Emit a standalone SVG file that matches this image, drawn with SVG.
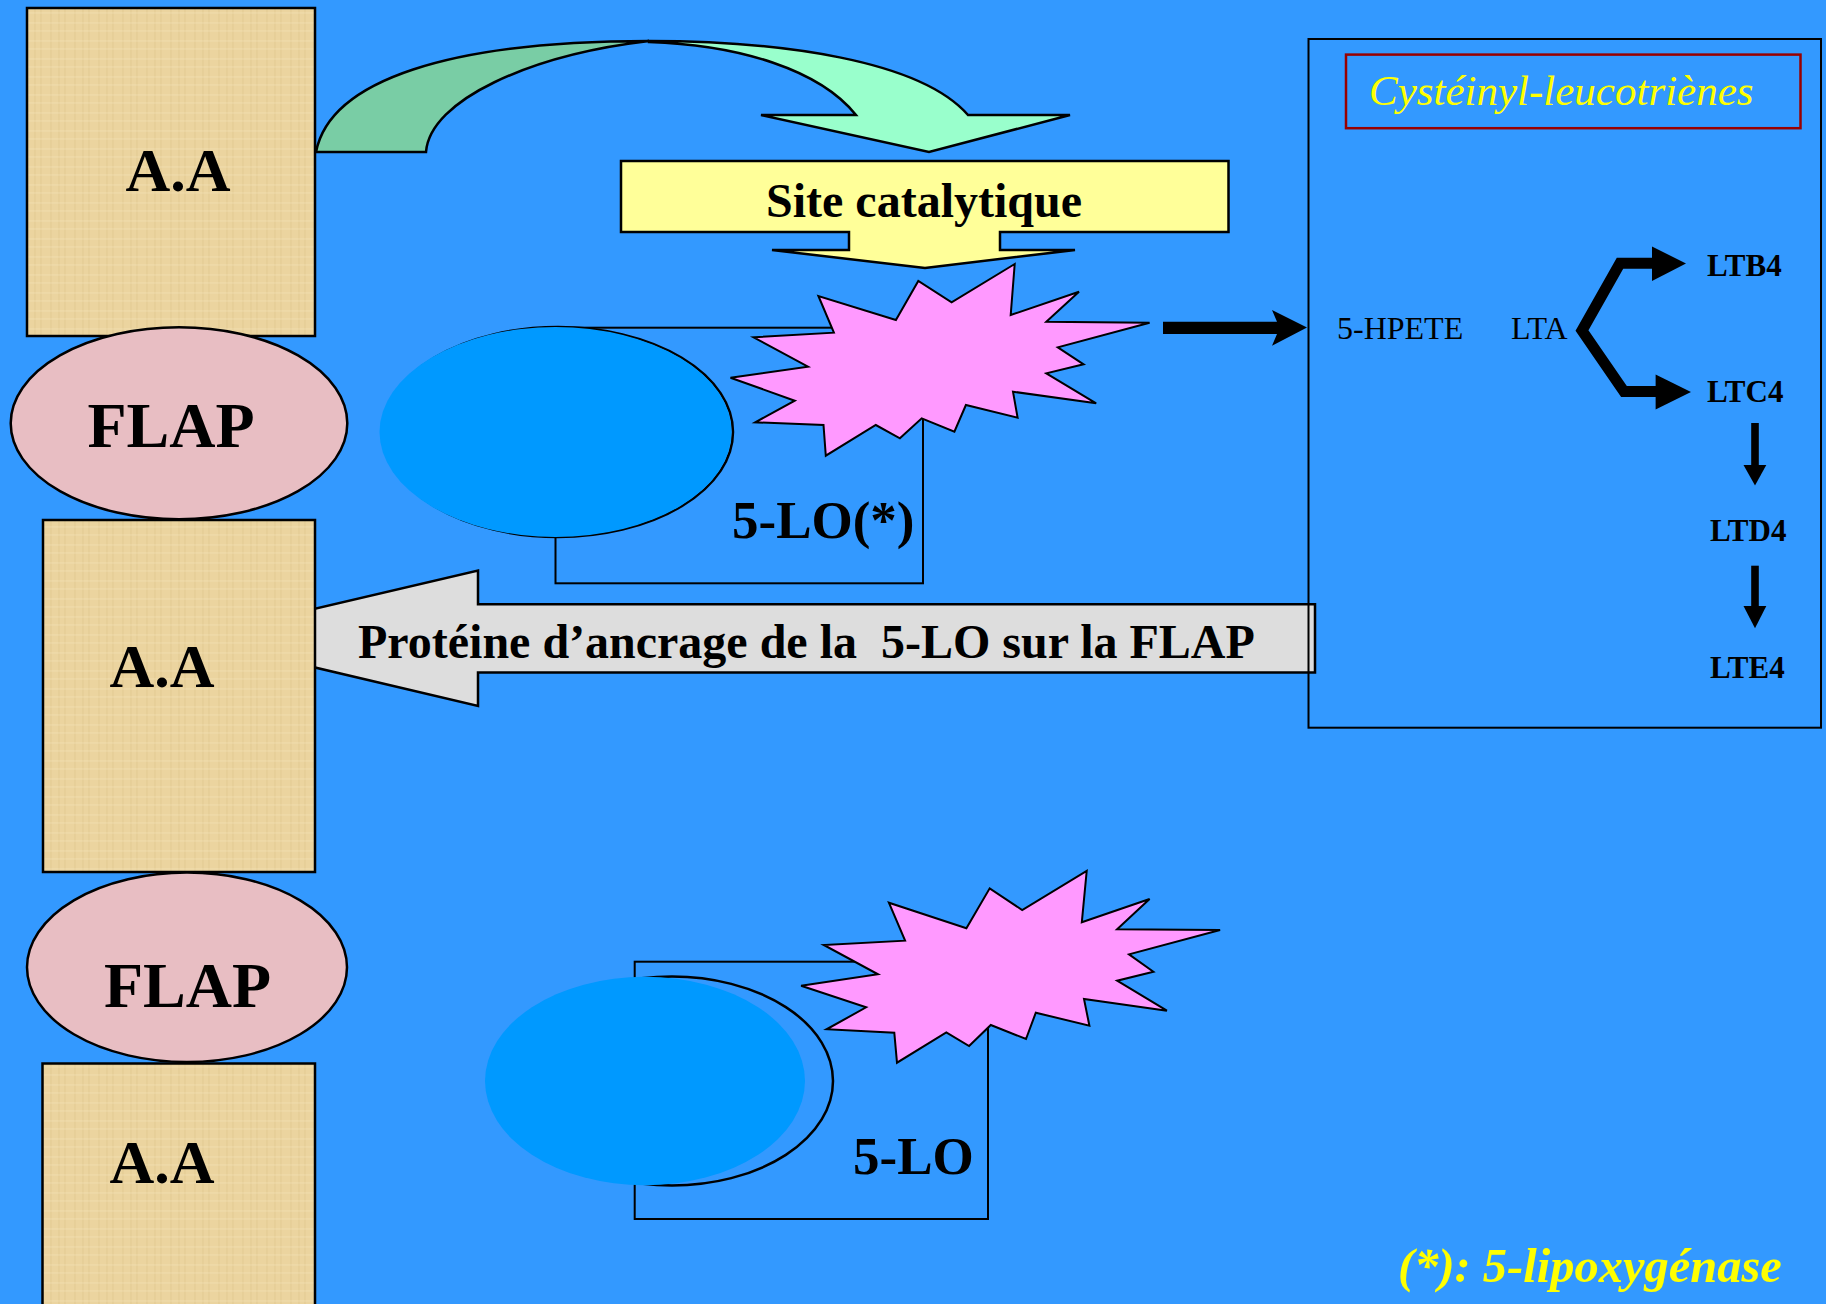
<svg xmlns="http://www.w3.org/2000/svg" width="1826" height="1304" viewBox="0 0 1826 1304">
<defs>
  <pattern id="papyrus" width="24" height="18" patternUnits="userSpaceOnUse">
    <rect width="24" height="18" fill="#EBD49F"/>
    <path d="M3,0 V18 M11,0 V18 M17,0 V18" stroke="#D9BF85" stroke-width="1" opacity="0.5"/>
    <path d="M0,5 H24 M0,13 H24" stroke="#F4E2B8" stroke-width="1" opacity="0.6"/>
  </pattern>
</defs>
<style>
.bg{fill:#3399FF}
.aa{fill:url(#papyrus);stroke:#000;stroke-width:2.5}
.flap{fill:#E8BEC3;stroke:#000;stroke-width:2.5}
.t{font-family:'Liberation Serif','Times New Roman',serif;font-weight:bold;fill:#000}
.big{font-size:62px;text-anchor:middle}
.flapt{font-size:64px;text-anchor:middle}
.lo{font-size:53px}
.lt{font-size:31px}
.reg{font-family:'Liberation Serif','Times New Roman',serif;font-weight:normal;font-size:32px;fill:#000}
.thin{fill:none;stroke:#000;stroke-width:2}
.star{fill:#FF99FF;stroke:#000;stroke-width:2;stroke-linejoin:miter}
.fill5{fill:#0099FF}
.ol{fill:none;stroke:#000;stroke-width:2.5}
.blk{fill:#000}
</style>
<rect class="bg" x="0" y="0" width="1826" height="1304"/>

<g id="connectors">
  <g id="curved-arrow" stroke="#000" stroke-width="2.5" stroke-linejoin="miter">
    <path d="M316,152 C330,80 450,41 649,41 C530,55 430,100 426,152 Z" fill="#79CDA5"/>
    <path d="M649,41 C780,41 920,60 968,115 L1070,115 L929,152 L761,115 L856,115 C820,70 740,45 649,42 Z" fill="#99FFCC"/>
  </g>
  <g id="anchor-arrow">
    <path d="M1315,604.3 H478 V570.6 L190,638 L478,706 V672.5 H1315 Z" fill="#DDDDDD" stroke="#000" stroke-width="2.5"/>
    <text class="t" x="358" y="658" font-size="48" xml:space="preserve">Protéine d’ancrage de la  5-LO sur la FLAP</text>
  </g>
  <path id="arrow-to-box" class="blk" d="M1163,321.7 H1277 L1272,310 L1307,327.5 L1272,345.7 L1277,334 H1163 Z"/>
  <g id="branch-arrows">
    <polyline points="1655,263.3 1620,263.3 1582,330.5 1624,391.5 1658,391.5" fill="none" stroke="#000" stroke-width="11" stroke-linejoin="miter" stroke-miterlimit="10"/>
    <polygon class="blk" points="1652,246.5 1686,263.5 1652,281"/>
    <polygon class="blk" points="1655.6,374.6 1691,392 1655.6,409.5"/>
  </g>
  <g id="down-arrows">
    <rect class="blk" x="1751.2" y="423" width="7.6" height="43"/>
    <polygon class="blk" points="1743.5,465 1766.3,465 1755,485.4"/>
    <rect class="blk" x="1751.2" y="565.7" width="7.6" height="41"/>
    <polygon class="blk" points="1743.5,605.9 1766.3,605.9 1755,628.2"/>
  </g>
</g>

<g id="aa1">
  <rect class="aa" x="27" y="8" width="288" height="328"/>
  <text class="t big" x="178" y="191">A.A</text>
</g>
<g id="flap1">
  <ellipse class="flap" cx="179" cy="423.3" rx="168.3" ry="96"/>
  <text class="t flapt" x="171" y="447">FLAP</text>
</g>
<g id="aa2">
  <rect class="aa" x="43" y="520" width="272" height="352"/>
  <text class="t big" x="162" y="687">A.A</text>
</g>
<g id="flap2">
  <ellipse class="flap" cx="187" cy="967.3" rx="160" ry="94.7"/>
  <text class="t flapt" x="187.5" y="1007">FLAP</text>
</g>
<g id="aa3">
  <rect class="aa" x="42.5" y="1063.5" width="272.5" height="245"/>
  <text class="t big" x="162" y="1183">A.A</text>
</g>

<g id="site-catalytique">
  <path d="M621,161 H1228.5 V232 H1000 V250 H1075 L925,268 L772,250 H849 V232 H621 Z" fill="#FFFF99" stroke="#000" stroke-width="2.5"/>
  <text class="t" x="924" y="217" font-size="48" text-anchor="middle">Site catalytique</text>
</g>

<g id="lo-active">
  <rect class="thin" x="555.5" y="327.7" width="367.5" height="255.6"/>
  <ellipse class="ol" cx="558" cy="432" rx="175" ry="105"/>
  <ellipse class="fill5" cx="555.5" cy="432" rx="176" ry="105"/>
  <polygon class="star" points="1014.7,264 1010.7,315 1079,291.7 1046.3,321.7 1149.6,322.7 1057.8,347.3 1083.6,364.3 1046.3,373.3 1096.2,403.3 1013,391.7 1017.6,417.7 965.9,405 954.4,431.7 921.7,418.3 899.9,438.3 875.8,425 825.8,455.7 823.5,425 755.2,422.3 794.8,400.7 730.5,377.7 808,366.7 753.5,337.3 833.9,332.7 818.4,296 895.9,320 918.3,281 951.6,302.3"/>
  <text class="t lo" x="732" y="538">5-LO(*)</text>
</g>

<g id="lo-inactive">
  <rect class="thin" x="634.7" y="961.7" width="353.3" height="257.3"/>
  <ellipse class="ol" cx="672" cy="1081" rx="161" ry="104.5"/>
  <ellipse class="fill5" cx="645" cy="1081" rx="160" ry="104.3"/>
  <polygon class="star" points="1086.7,871 1081.8,922.3 1149.6,899 1117.1,929.3 1220.1,930 1129,954.3 1153.4,971.7 1117.1,980.7 1166.9,1010.7 1084,999 1089.4,1025.7 1035.8,1012.7 1026,1039 990.8,1025 969.1,1046 946.3,1032.3 897,1062.7 894.3,1032.7 826.6,1029.3 866.1,1007.3 801.1,985.7 878,974.3 823.8,945 905.1,940.7 888.9,902.7 966.4,928.3 989.7,888.3 1022.2,910"/>
  <text class="t lo" x="853" y="1174">5-LO</text>
</g>

<g id="leukotriene-panel">
  <rect class="thin" x="1308.5" y="39" width="512.5" height="688.7"/>
  <rect x="1346" y="54.6" width="454.5" height="73.6" fill="none" stroke="#990000" stroke-width="2.5"/>
  <text x="1369" y="105" font-family="'Liberation Serif','Times New Roman',serif" font-style="italic" font-size="43" fill="#FFFF00">Cystéinyl-leucotriènes</text>
  <text class="reg" x="1337" y="339">5-HPETE</text>
  <text class="reg" x="1511" y="339">LTA</text>
  <text class="t lt" x="1707" y="276">LTB4</text>
  <text class="t lt" x="1707" y="402">LTC4</text>
  <text class="t lt" x="1710" y="541">LTD4</text>
  <text class="t lt" x="1710" y="678">LTE4</text>
</g>

<text id="footnote" x="1398" y="1282" font-family="'Liberation Serif','Times New Roman',serif" font-style="italic" font-weight="bold" font-size="48.5" fill="#FFFF00">(*): 5-lipoxygénase</text>
</svg>
